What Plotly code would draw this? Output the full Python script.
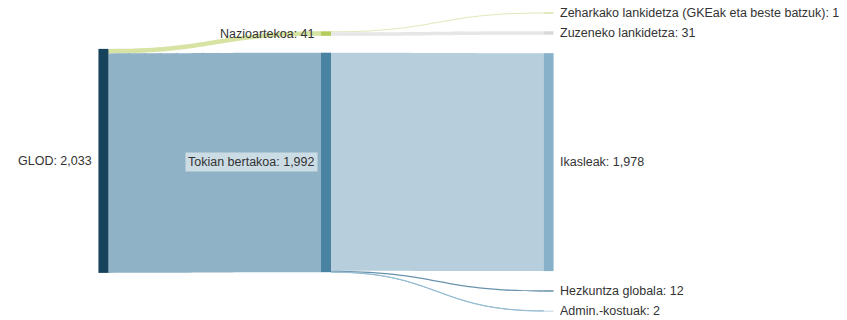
import plotly.graph_objects as go

# data
nodes = ['GLOD', 'Nazioartekoa', 'Tokian bertakoa',
         'Zeharkako lankidetza (GKEak eta beste batzuk)', 'Zuzeneko lankidetza',
         'Ikasleak', 'Hezkuntza globala', 'Admin.-kostuak']
sources = [0, 0, 1, 1, 2, 2, 2]
targets = [1, 2, 3, 4, 5, 6, 7]
values = [41, 1992, 10, 31, 1978, 12, 2]

# layout of nodes (normalized centres, y from top)
node_x = [0.001, 0.5, 0.5, 0.999, 0.999, 0.999, 0.999, 0.999]
node_y = [0.490, 0.082, 0.495, 0.016, 0.080, 0.494, 0.907, 0.971]

node_colors = ['#17425c', '#b3cc5a', '#4a82a2', '#c8da88', '#d9d9d9',
               '#86b1c8', '#4f7f9e', '#7aaecb']
link_colors = ['#d6e3a3', '#8fb2c6', '#dfe9bb', '#e6e6e6',
               '#b7cfdd', '#6790ac', '#97bdd2']

# node totals for labels
totals = []
for i in range(len(nodes)):
    tin = sum(v for t, v in zip(targets, values) if t == i)
    tout = sum(v for s, v in zip(sources, values) if s == i)
    totals.append(max(tin, tout))

THICK = 10
fig = go.Figure(go.Sankey(
    arrangement='fixed',
    node=dict(label=nodes, x=node_x, y=node_y, color=node_colors,
              pad=22, thickness=THICK, line=dict(width=0)),
    link=dict(source=sources, target=targets, value=values, color=link_colors),
    textfont=dict(size=1, color='rgba(0,0,0,0)'),
))

annotations = []
for i, name in enumerate(nodes):
    right = node_x[i] > 0.9
    annotations.append(dict(
        x=node_x[i], y=1 - node_y[i], xref='paper', yref='paper',
        text=f'{name}: {totals[i]:,}', showarrow=False,
        xanchor='left' if right else 'right', yanchor='middle',
        xshift=8 if right else -8,
        font=dict(family='Liberation Sans, Arial', size=12.5, color='#333333'),
        bgcolor='rgba(255,255,255,0.55)' if name == 'Tokian bertakoa' else None,
        borderpad=2,
    ))

# page body has an 8px margin, so the figure is sized to fit the window
fig.update_layout(width=839, height=312,
                  margin=dict(l=95, r=298, t=0, b=0),
                  paper_bgcolor='white',
                  annotations=annotations)

fig.write_html('out.html')
